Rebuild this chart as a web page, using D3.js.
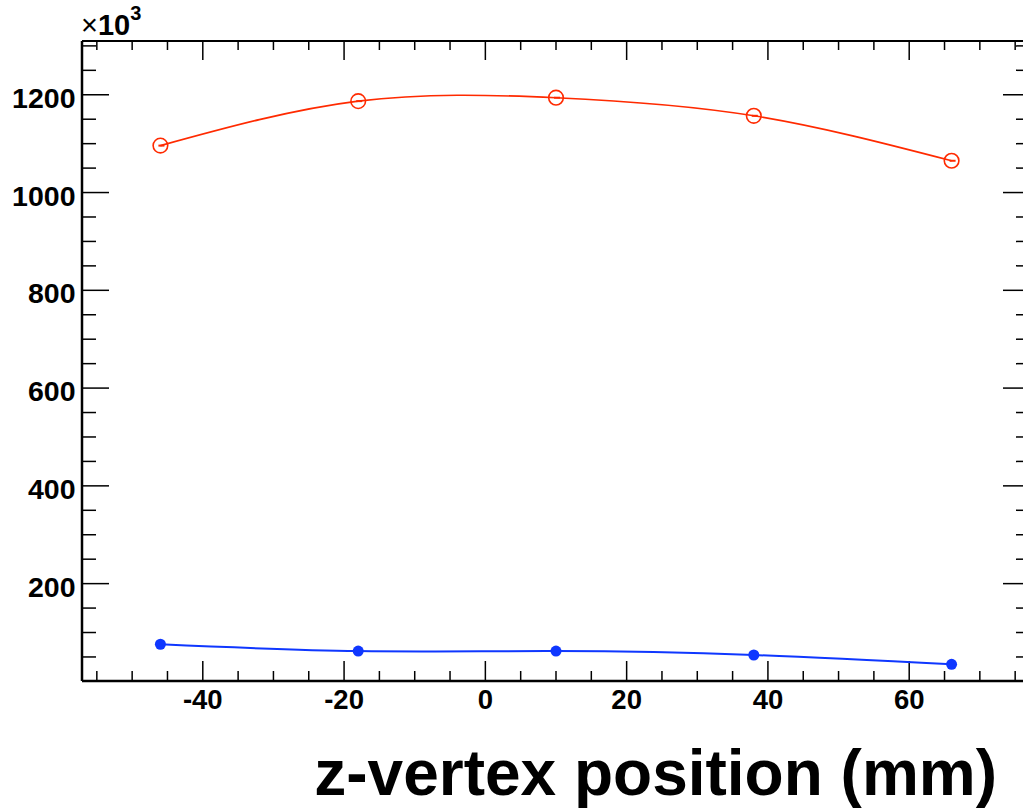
<!DOCTYPE html>
<html><head><meta charset="utf-8">
<script src="https://cdn.jsdelivr.net/npm/d3@7"></script>
<style>body{margin:0;background:#fff}svg{display:block}text{font-family:"Liberation Sans",Arial,Helvetica,sans-serif;font-weight:bold}</style>
</head><body>
<svg id="c" width="1023" height="809"></svg>
<script>
const zPos = [-46, -18, 10, 38, 66];
const redVals = [1096, 1187, 1194, 1157, 1065];
const blueVals = [76, 62, 62, 54, 35];
const xTicks = [-40, -20, 0, 20, 40, 60];
const yTicks = [200, 400, 600, 800, 1000, 1200];
const xTitle = "z-vertex position (mm)";

const svg = d3.select("#c");
const L = 82, R = 1030, T = 41, B = 681;
const x = d3.scaleLinear().domain([-57.1, 77.1]).range([L, R]);
const y = d3.scaleLinear().domain([0, 1310]).range([B + 0.4, T]);

const xMinor = d3.range(-55, 77, 5);
const yMinor = d3.range(50, 1310, 50);

const g = svg.append("g");
g.append("line").attr("x1", L).attr("x2", R).attr("y1", B).attr("y2", B).attr("stroke", "#000").attr("stroke-width", 2.5);
g.append("line").attr("x1", L).attr("x2", R).attr("y1", T).attr("y2", T).attr("stroke", "#000").attr("stroke-width", 2);
g.append("line").attr("x1", L).attr("x2", L).attr("y1", T).attr("y2", B).attr("stroke", "#000").attr("stroke-width", 2.5);
g.append("line").attr("x1", R).attr("x2", R).attr("y1", T).attr("y2", B).attr("stroke", "#000").attr("stroke-width", 2);

xMinor.forEach(v => {
  const major = xTicks.includes(v);
  const px = x(v);
  g.append("line").attr("x1", px).attr("x2", px).attr("y1", B).attr("y2", B - (major ? 20 : 10)).attr("stroke", "#000").attr("stroke-width", 1.5);
  g.append("line").attr("x1", px).attr("x2", px).attr("y1", T).attr("y2", T + (major ? 19 : 9)).attr("stroke", "#000").attr("stroke-width", 1.5);
});
yMinor.forEach(v => {
  const major = yTicks.includes(v);
  const py = y(v);
  g.append("line").attr("x1", L).attr("x2", L + (major ? 27 : 14)).attr("y1", py).attr("y2", py).attr("stroke", "#000").attr("stroke-width", 1.5);
  g.append("line").attr("x1", R).attr("x2", R - (major ? 27 : 14)).attr("y1", py).attr("y2", py).attr("stroke", "#000").attr("stroke-width", 1.5);
});

g.selectAll(".xl").data(xTicks).enter().append("text")
  .attr("x", d => x(d)).attr("y", 709).attr("text-anchor", "middle")
  .attr("font-size", 27.5).text(d => d);
g.selectAll(".yl").data(yTicks).enter().append("text")
  .attr("x", 75.5).attr("y", d => y(d) + 13).attr("text-anchor", "end")
  .attr("font-size", 28.5).text(d => d);

const ex = g.append("text").attr("x", 81).attr("y", 35).attr("font-size", 29);
ex.append("tspan").attr("font-weight", "normal").text("\u00d7");
ex.append("tspan").text("10");
ex.append("tspan").attr("font-size", 20).attr("dy", -15).text("3");

g.append("text").attr("x", 997).attr("y", 795).attr("text-anchor", "end")
  .attr("font-size", 64).text(xTitle);

const line = d3.line().x(d => x(d[0])).y(d => y(d[1])).curve(d3.curveNatural);
const red = "#ff2a00", blue = "#0f37ff";
const redData = zPos.map((z, i) => [z, redVals[i]]);
const blueData = zPos.map((z, i) => [z, blueVals[i]]);

svg.append("path").attr("d", line(blueData)).attr("fill", "none").attr("stroke", blue).attr("stroke-width", 2);
svg.append("path").attr("d", line(redData)).attr("fill", "none").attr("stroke", red).attr("stroke-width", 1.6);

svg.selectAll(".bp").data(blueData).enter().append("circle")
  .attr("cx", d => x(d[0])).attr("cy", d => y(d[1])).attr("r", 5.5).attr("fill", blue);
svg.selectAll(".rp").data(redData).enter().append("circle")
  .attr("cx", d => x(d[0])).attr("cy", d => y(d[1])).attr("r", 7.3)
  .attr("fill", "none").attr("stroke", red).attr("stroke-width", 1.6);
svg.selectAll(".rd").data(redData).enter().append("line")
  .attr("x1", d => x(d[0]) - 2).attr("x2", d => x(d[0]) + 4)
  .attr("y1", d => y(d[1])).attr("y2", d => y(d[1]))
  .attr("stroke", red).attr("stroke-width", 2);
</script>
</body></html>
